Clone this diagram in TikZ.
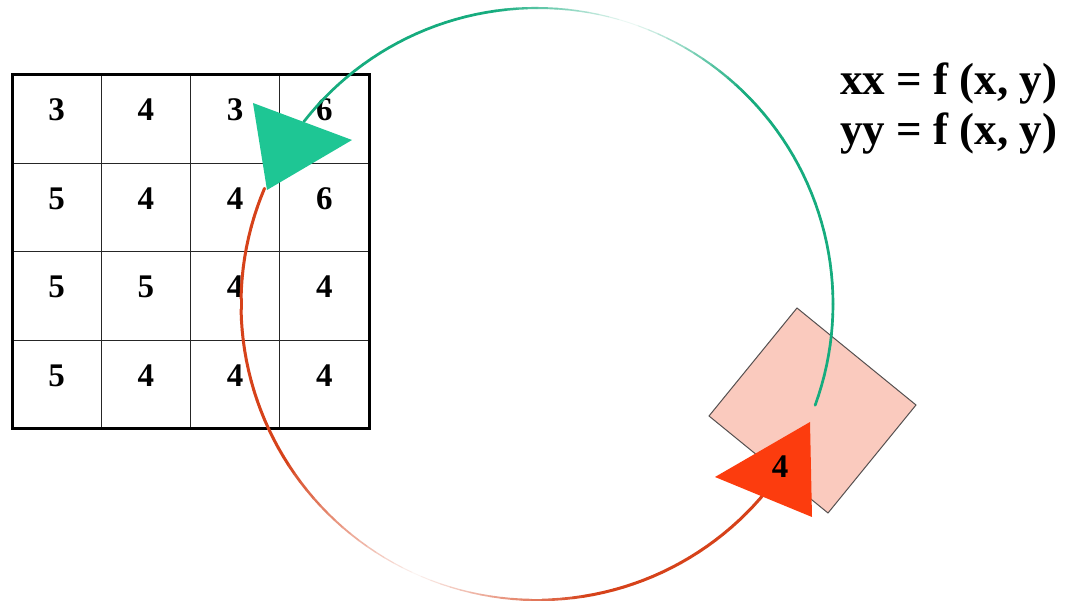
\documentclass[tikz,border=0pt]{standalone}
\usepackage{fontspec}
\setmainfont{Liberation Serif}
\definecolor{linegreen}{RGB}{22,172,126}
\definecolor{headgreen}{RGB}{30,198,148}
\definecolor{linered}{RGB}{214,66,26}
\definecolor{headred}{RGB}{252,60,14}
\definecolor{pinkfill}{RGB}{250,202,190}
\definecolor{boxedge}{RGB}{85,80,80}
\begin{document}
\begin{tikzpicture}[x=1pt,y=-1pt]
\tikzset{
  num/.style={font=\fontsize{33}{36}\selectfont\bfseries, inner sep=0pt, anchor=base},
  eq/.style={font=\fontsize{45}{50}\selectfont\bfseries, inner sep=0pt, anchor=base west},
  thinrule/.style={line width=1pt, draw=black!85},
  frame/.style={line width=3pt, draw=black},
  pinkbox/.style={fill=pinkfill, draw=boxedge, line width=1pt},
  greenhead/.style={fill=headgreen},
  redhead/.style={fill=headred},
}
\useasboundingbox (0,0) rectangle (1069,601);
\fill[white] (0,0) rectangle (1069,601);

% grid
\foreach \i in {1,2,3} {
  \draw[thinrule] ({12+89.25*\i},75) -- ({12+89.25*\i},429);
  \draw[thinrule] (12,{75+88.5*\i}) -- (369,{75+88.5*\i});
}
\draw[frame] (12,75) rectangle (369,429);
\foreach \v [count=\k from 0] in {3,4,3,6,5,4,4,6,5,5,4,4,5,4,4,4} {
  \pgfmathtruncatemacro\c{mod(\k,4)}
  \pgfmathtruncatemacro\r{div(\k,4)}
  \node[num] (n\r\c) at ({56.6+89.25*\c},{121+88.5*\r}) {\v};
}

% pink box
\draw[pinkbox] (797,308) -- (916,405) -- (828,513) -- (709,416) -- cycle;

% green arc (fading)
\foreach \a in {-20,-18,...,140} {
  \pgfmathsetmacro\f{min(1,abs(\a+1-72)/26)}
  \pgfmathtruncatemacro\t{6+94*\f}
  \pgfmathsetmacro\w{0.8+1.9*\f}
  \draw[line width=\w pt, linegreen!\t!white, line cap=round]
    ({537+296*cos(\a)},{304-296*sin(\a)}) -- ({537+296*cos(\a+2)},{304-296*sin(\a+2)});
}
% red arc (fading)
\foreach \a in {157,159,...,319} {
  \pgfmathsetmacro\f{min(1,abs(\a+1-246)/34)}
  \pgfmathtruncatemacro\t{6+94*\f}
  \pgfmathsetmacro\w{0.8+2.2*\f}
  \draw[line width=\w pt, linered!\t!white, line cap=round]
    ({537+296*cos(\a)},{304-296*sin(\a)}) -- ({537+296*cos(\a+2)},{304-296*sin(\a+2)});
}

% arrow heads
\fill[greenhead] (253,103) -- (352,140) -- (267,190) -- cycle;
\fill[redhead] (715,477) -- (810,422) -- (812,517) -- cycle;
\node[num] (out) at (780,478) {4};

% equations
\node[eq] (eq1) at (840,95) {xx = f (x, y)};
\node[eq] (eq2) at (840,145) {yy = f (x, y)};
\end{tikzpicture}
\end{document}
